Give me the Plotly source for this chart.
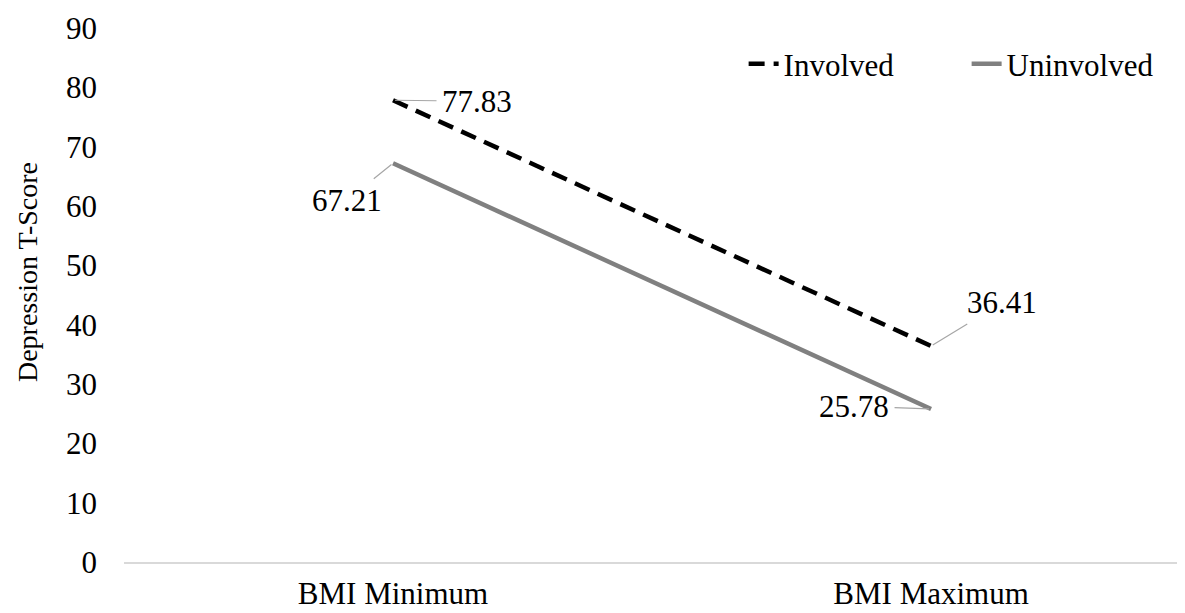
import plotly.graph_objects as go

categories = ["BMI Minimum", "BMI Maximum"]
involved = [77.83, 36.41]
uninvolved = [67.21, 25.78]
y_ticks = [0, 10, 20, 30, 40, 50, 60, 70, 80, 90]

FONT = "Liberation Serif"

fig = go.Figure()
fig.add_trace(go.Scatter(
    x=categories, y=involved, name="Involved", mode="lines",
    line=dict(color="#000000", width=4.5, dash="16px,9px"),
    legendwidth=178,
))
fig.add_trace(go.Scatter(
    x=categories, y=uninvolved, name="Uninvolved", mode="lines",
    line=dict(color="#808080", width=4.5),
    legendwidth=150,
))

# data labels with leader lines: (series values, value index, ax, ay)
label_specs = [
    (involved, 0, 84, 1),
    (uninvolved, 0, -46, 37),
    (involved, 1, 71, -43),
    (uninvolved, 1, -77, -3),
]
annotations = []
for series, i, ax, ay in label_specs:
    annotations.append(dict(
        x=categories[i], y=series[i], xref="x", yref="y",
        text=f"{series[i]:.2f}", showarrow=True, arrowhead=0,
        arrowwidth=1.2, arrowcolor="#a6a6a6", ax=ax, ay=ay,
        standoff=2, startstandoff=4,
        font=dict(family=FONT, size=31, color="#000000"),
    ))

annotations.append(dict(
    text="Depression T-Score", textangle=-90, showarrow=False,
    xref="paper", yref="paper", x=-0.0914, y=0.543,
    xanchor="center", yanchor="middle",
    font=dict(family=FONT, size=28, color="#000000"),
))

fig.update_layout(
    width=1177, height=605,
    margin=dict(l=116, r=0, t=20, b=51, autoexpand=False),
    paper_bgcolor="white", plot_bgcolor="white",
    font=dict(family=FONT, size=31, color="#000000"),
    showlegend=True,
    legend=dict(
        orientation="h", x=0.584, xanchor="left", y=0.9326, yanchor="middle",
        font=dict(family=FONT, size=31, color="#000000"),
        bgcolor="rgba(0,0,0,0)", tracegroupgap=0,
    ),
    annotations=annotations,
    xaxis=dict(
        type="category", range=[-0.5, 1.472],
        showline=True, linecolor="#d9d9d9", linewidth=1.5,
        showgrid=False, zeroline=False, ticks="",
        tickfont=dict(family=FONT, size=31, color="#000000"),
        ticklabelstandoff=3, automargin=False,
    ),
    yaxis=dict(
        range=[0, 90], tickvals=y_ticks, ticktext=[str(v) for v in y_ticks],
        showline=False, showgrid=False, zeroline=False, ticks="",
        tickfont=dict(family=FONT, size=31, color="#000000"),
        ticklabelstandoff=26, automargin=False,
    ),
)

fig.write_html("out.html")
